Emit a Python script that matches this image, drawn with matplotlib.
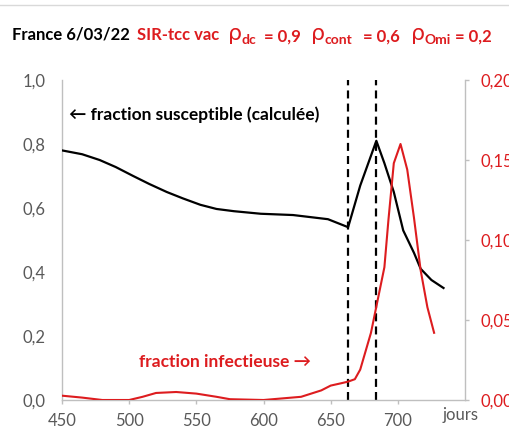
import matplotlib
matplotlib.use('Agg')
import matplotlib.pyplot as plt
from matplotlib import ticker

plt.rcParams['font.family'] = ['Lato', 'DejaVu Sans']

RED = '#dd1c1f'
GREY = '#595959'
AXIS_GREY = '#bfbfbf'

# fraction susceptible (left axis)
days_s = [450, 465, 478, 490, 503, 515, 528, 540, 553, 565, 578, 598, 622, 648,
          663, 672, 684, 690, 697, 704, 712, 717, 725, 734]
frac_s = [0.78, 0.768, 0.75, 0.728, 0.70, 0.675, 0.65, 0.63, 0.61, 0.597, 0.59, 0.582,
          0.578, 0.565, 0.54, 0.67, 0.81, 0.74, 0.65, 0.53, 0.46, 0.41, 0.375, 0.35]

# fraction infectieuse (right axis)
days_i = [450, 465, 480, 500, 510, 520, 535, 550, 565, 575, 600, 628, 643, 650,
          658, 663, 668, 672, 680, 685, 690, 693, 697, 702, 707, 712, 717, 722, 727]
frac_i = [0.0027, 0.0015, 0.0, 0.0, 0.002, 0.0044, 0.005, 0.004, 0.002, 0.0005, 0.0,
          0.002, 0.006, 0.009, 0.0105, 0.0115, 0.013, 0.019, 0.042, 0.0625, 0.083,
          0.1125, 0.148, 0.16, 0.144, 0.114, 0.081, 0.058, 0.042]

vlines = [663, 684]
x_ticks = [450, 500, 550, 600, 650, 700]
y_ticks = [0.0, 0.2, 0.4, 0.6, 0.8, 1.0]
y2_ticks = [0.0, 0.05, 0.10, 0.15, 0.20]

W, H = 510, 442
fig = plt.figure(figsize=(W / 100, H / 100), dpi=100)
ax = fig.add_axes([62 / W, 42 / H, 403 / W, 320 / H])
ax2 = ax.twinx()

ax.plot(days_s, frac_s, color='black', lw=1.6, zorder=3)
ax2.plot(days_i, frac_i, color=RED, lw=1.5, zorder=3)
for d in vlines:
    ax.axvline(d, color='black', lw=1.6, ls=(0, (3.6, 2.3)), zorder=2)

ax.set_xlim(450, 750)
ax.set_ylim(0, 1.0)
ax2.set_ylim(0, 0.20)
ax.set_xticks(x_ticks)
ax.set_yticks(y_ticks)
ax2.set_yticks(y2_ticks)

comma1 = ticker.FuncFormatter(lambda v, p: f'{v:.1f}'.replace('.', ','))
comma2 = ticker.FuncFormatter(lambda v, p: f'{v:.2f}'.replace('.', ','))
ax.yaxis.set_major_formatter(comma1)
ax2.yaxis.set_major_formatter(comma2)

for a in (ax, ax2):
    a.spines['top'].set_visible(False)
    for s in ('left', 'right', 'bottom'):
        a.spines[s].set_color(AXIS_GREY)
        a.spines[s].set_linewidth(1.0)
ax.spines['right'].set_visible(False)
ax2.spines['left'].set_visible(False)
ax2.spines['bottom'].set_visible(False)

ax.tick_params(axis='x', colors=GREY, labelsize=12, length=3, width=1, color=AXIS_GREY, pad=6)
ax.tick_params(axis='y', colors=GREY, labelsize=12, length=0, pad=12)
ax2.tick_params(axis='y', colors=RED, labelsize=12, length=3, width=1, color=AXIS_GREY, pad=8)

ax.text(0.018, 0.89, '\u2190 fraction susceptible (calculée)', transform=ax.transAxes,
        fontsize=12.5, fontweight='bold', color='black', va='center')
ax.text(0.19, 0.119, 'fraction infectieuse \u2192', transform=ax.transAxes,
        fontsize=12.5, fontweight='bold', color=RED, va='center')
fig.text(443 / W, 1 - 415 / H, 'jours', fontsize=12, color=GREY, va='center')

# title pieces, baselines in pixels from the top
tb = 1 - 40 / H
sb = 1 - 44 / H
fig.text(12 / W, tb, 'France 6/03/22', fontsize=12, fontweight='bold', va='baseline')
fig.text(137 / W, tb, 'SIR-tcc vac', fontsize=12, fontweight='bold', color=RED, va='baseline')
for x_rho, sub, x_sub, val, x_val in [(228, 'dc', 242, '= 0,9', 264),
                                      (311, 'cont', 325, '= 0,6', 363),
                                      (411, 'Omi', 425, '= 0,2', 455)]:
    fig.text(x_rho / W, tb, '\u03c1', fontsize=16, color=RED, va='baseline',
             family=['DejaVu Sans'])
    fig.text(x_sub / W, sb, sub, fontsize=10, fontweight='bold', color=RED, va='baseline')
    fig.text(x_val / W, tb - 2 / H, val, fontsize=12, fontweight='bold', color=RED,
             va='baseline')

fig.add_artist(plt.Line2D([0, 1], [1 - 5 / H, 1 - 5 / H], color='#d9d9d9', lw=1))

fig.savefig('out.png', dpi=100)
